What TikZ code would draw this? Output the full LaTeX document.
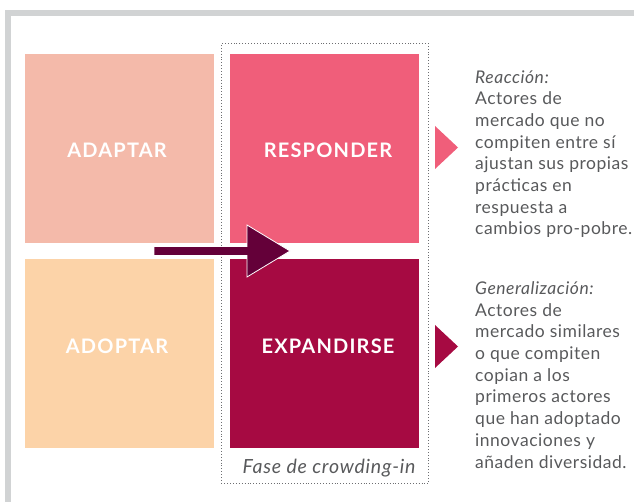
\documentclass[tikz,border=0pt]{standalone}
\usepackage{fontspec}
\setmainfont{Lato}
\newfontfamily\quadfont[LetterSpace=6]{Lato}
\newfontfamily\phasefont[LetterSpace=4]{Lato}
\newfontfamily\sidefont[LetterSpace=3]{Lato}
\definecolor{framegray}{HTML}{D1D3D4}
\definecolor{cadapt}{HTML}{F4BAAA}
\definecolor{cresp}{HTML}{F05E7A}
\definecolor{cadopt}{HTML}{FCD3A8}
\definecolor{cexp}{HTML}{A60A42}
\definecolor{carrow}{HTML}{640039}
\definecolor{txtgray}{HTML}{58595B}
\definecolor{dotgray}{HTML}{6D6E71}
\begin{document}
\begin{tikzpicture}[x=1pt,y=-1pt,
  quad/.style={rectangle,inner sep=0pt,minimum width=189pt,minimum height=189pt,anchor=north west},
  quadlabel/.style={text=white,font=\quadfont\bfseries\fontsize{20}{22}\selectfont,inner sep=0pt,anchor=base},
  sidetext/.style={text=txtgray,font=\sidefont\fontsize{17.5}{21.7}\selectfont,align=left,inner sep=0pt,anchor=base west},
  phase/.style={draw=dotgray,dotted,line width=0.9pt}]
\useasboundingbox (0,0) rectangle (634,502);
% frame
\fill[framegray] (5,10) rectangle (634,16);
\fill[framegray] (5,10) rectangle (11,502);
% phase box
\node[phase,rectangle,inner sep=0pt,minimum width=207pt,minimum height=440pt,anchor=north west] (fase) at (221,43) {};
% quadrants
\node[quad,fill=cadapt] (adaptar) at (25,54) {};
\node[quad,fill=cresp] (responder) at (230,54) {};
\node[quad,fill=cadopt] (adoptar) at (25,259) {};
\node[quad,fill=cexp] (expandirse) at (230,259) {};
\node[quadlabel] (ladaptar) at (117,158) {ADAPTAR};
\node[quadlabel] (lresponder) at (328,158) {RESPONDER};
\node[quadlabel] (ladoptar) at (117,353) {ADOPTAR};
\node[quadlabel] (lexpandirse) at (328,353) {EXPANDIRSE};
% phase label
\node[text=txtgray,font=\phasefont\itshape\fontsize{19.5}{22}\selectfont,inner sep=0pt,anchor=base] (lfase) at (329,473) {Fase de crowding-in};
% arrow
\fill[carrow,draw=white,line width=0.8pt] (154,246.5) -- (247,246.5) -- (247,225) -- (290,251) -- (247,277) -- (247,255.5) -- (154,255.5) -- cycle;
% side triangles
\fill[cresp] (435,126) -- (458,147.5) -- (435,169) -- cycle;
\fill[cexp] (435,325) -- (458,346.5) -- (435,368) -- cycle;
% side texts
\node[sidetext] (treac) at (475,235) {\textit{Reacción:}\\Actores de\\mercado que no\\compiten entre sí\\ajustan sus propias\\prácticas en\\respuesta a\\cambios pro-pobre.};
\node[sidetext] (tgen) at (475,468) {\textit{Generalización:}\\Actores de\\mercado similares\\o que compiten\\copian a los\\primeros actores\\que han adoptado\\innovaciones y\\añaden diversidad.};
\end{tikzpicture}
\end{document}
